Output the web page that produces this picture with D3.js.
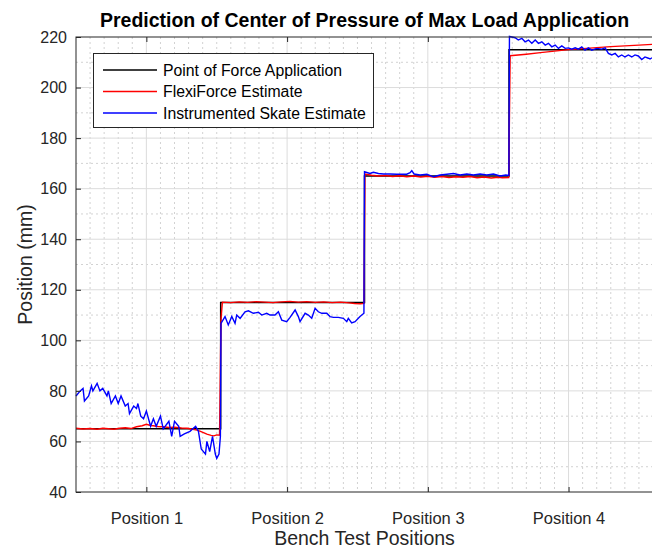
<!DOCTYPE html>
<html>
<head>
<meta charset="utf-8">
<script src="https://cdn.jsdelivr.net/npm/d3@7"></script>
<style>
  html, body { margin: 0; padding: 0; background: #fff; }
  svg { display: block; font-family: "Liberation Sans", Arial, Helvetica, sans-serif; }
</style>
</head>
<body>
<svg id="chart" width="652" height="550"></svg>
<script>
// ---- data ----
const positionLabels = ["Position 1", "Position 2", "Position 3", "Position 4"];
const positionTicks = [50, 150, 250, 350];
const yTicks = [40, 60, 80, 100, 120, 140, 160, 180, 200, 220];

// point of force application (step levels, sample index where each level starts)
const forceStart = [0, 102.8, 205, 307.7, 410];
const forceMm = [65, 115, 165, 215, 215];

// FlexiForce estimate, [sample, mm]
const flexiPos1 = [[0,65.2],[5,64.9],[10,65.1],[15,64.8],[19,65.2],[23,65.0],[27,64.8],[31,65.2],[35,65.4],[39,65.1],[43,65.8],[47,66.2],[50,66.8],[53,66.3],[55,66.2],[58,65.9],[62,65.8],[66,65.5],[70,65.6],[75,65.3],[79,65.2],[83,64.8],[86,64.5],[88,64.1],[91,63.4],[93,62.9],[96,62.4],[98,62.2],[100,62.6],[102,62.5]];
const flexiPos2 = [[103,108],[104,115.1],[110,114.9],[116,115.2],[122,115.0],[128,115.3],[134,115.1],[140,114.9],[146,115.2],[152,115.4],[158,115.1],[164,115.3],[170,115.0],[176,115.2],[182,114.9],[188,115.1],[194,114.8],[198,114.6],[202,114.5],[204.6,114.6]];
const flexiPos3 = [[205.3,165.8],[210,165.3],[215,165.0],[220,165.2],[225,164.8],[230,165.1],[235,164.7],[240,165.0],[245,164.6],[250,164.9],[255,164.5],[260,164.8],[265,164.4],[270,164.7],[275,164.5],[280,164.8],[285,164.3],[290,164.6],[295,164.2],[300,164.5],[303,164.3],[307.5,164.4]];
const flexiPos4 = [[308.5,212.6],[320,213.2],[330,213.8],[340,214.4],[350,215.0],[360,215.4],[370,215.8],[380,216.2],[390,216.5],[400,216.8],[410,217.1]];

// instrumented skate estimate, [sample, mm]
const skatePos1 = [[0,78],[3,80],[5,81],[6,76],[9,78],[11,82],[12,80],[15,83],[17,80],[19,81],[22,78],[23,80],[25,75],[28,78],[30,75],[32,78],[35,74],[37,75],[38,71],[41,74],[43,73],[44,75],[46,70],[48,69],[50,72],[53,66],[55,69],[57,66],[60,70],[62,65],[66,68],[68,62],[70,68],[73,66],[74,62],[77,63],[81,64],[85,66],[87,64],[89,57],[92,55],[93,60],[95,56],[97,62],[99,55],[100,53.3],[101.6,55],[102.6,62]];
const skatePos2 = [[103,106.7],[105.9,109.4],[108.2,106.1],[110.7,109.4],[113,106.7],[114.2,110],[116.6,108.7],[120.1,111.3],[122.5,111.7],[126,110.7],[129.6,111.1],[132,110],[135.5,110.7],[137.9,110],[141.4,110],[143.8,111.3],[146.2,108],[149.7,107.4],[152.1,109.1],[155.7,112],[158,109.4],[159.2,107.4],[162.8,110.7],[165.1,110],[167.5,108.7],[169.9,112.7],[172.2,111.3],[174.6,110.7],[178.2,110.7],[180.5,109.4],[182.9,109.1],[186.4,109.1],[190,108.7],[192.4,107.4],[193.5,108.7],[195.9,106.9],[198.3,107.4],[201.8,109.4],[204.6,110.7]];
const skatePos3 = [[205,166.7],[208.9,166],[211.3,166.5],[214.9,166],[218.4,165.8],[223.2,165.8],[227.9,165.7],[235,165.7],[237.4,166.3],[238.6,167.1],[240.2,165.8],[244.5,165.4],[249.3,165.7],[254,164.7],[258.7,165.4],[263.5,165.7],[268.2,166],[272.9,165.4],[277.7,165.8],[282.4,165.4],[287.1,165.8],[291.9,165.4],[296.6,165.8],[301.4,165],[305.4,165.4],[307.6,165.2]];
const skatePos4 = [[308,220.2],[312,219.7],[314.3,218.8],[316.8,219.5],[319.1,218.1],[321.5,218.8],[323.9,217.5],[326.3,218.8],[328.6,217.5],[331,218.1],[333.4,216.8],[335.7,217.5],[338.1,216.1],[340.5,216.8],[342.8,215.5],[345.2,216.5],[347.6,215.5],[349.9,215.7],[352.3,215.2],[354.7,215.7],[357,215.2],[359.4,216.1],[361.7,214.8],[364.1,215.7],[366.5,214.8],[370,215.5],[373.6,215.2],[376,215.7],[378.3,213.5],[380.7,212.9],[383.1,213.5],[385.4,212.1],[387.8,212.9],[390.1,212.1],[392.5,212.9],[394.9,212.1],[397.2,212.9],[399.6,212.5],[402,211.1],[404.3,212.1],[406.7,211.6],[407.9,211.3],[409.3,211.8]];

// ---- layout ----
const svg = d3.select("#chart");
const plotL = 76, plotR = 653, plotT = 37, plotB = 492;
const x = d3.scaleLinear().domain([0, 410]).range([plotL, plotR]);
const y = d3.scaleLinear().domain([40, 220]).range([plotB, plotT]);
const axisColor = "#262626";

// grid: minor dotted every 10 units, major solid at ticks
const minorX = d3.range(10, 410, 10).filter(v => !positionTicks.includes(v));
const minorY = d3.range(50, 220, 20);
const grid = svg.append("g");
grid.selectAll(".mx").data(minorX).join("line")
  .attr("x1", d => x(d)).attr("x2", d => x(d)).attr("y1", plotT).attr("y2", plotB)
  .attr("stroke", "#d2d2d2").attr("stroke-width", 1).attr("stroke-dasharray", "2,3");
grid.selectAll(".my").data(minorY).join("line")
  .attr("x1", plotL).attr("x2", plotR).attr("y1", d => y(d)).attr("y2", d => y(d))
  .attr("stroke", "#d2d2d2").attr("stroke-width", 1).attr("stroke-dasharray", "2,3");
grid.selectAll(".Mx").data(positionTicks).join("line")
  .attr("x1", d => x(d)).attr("x2", d => x(d)).attr("y1", plotT).attr("y2", plotB)
  .attr("stroke", "#dcdcdc").attr("stroke-width", 1);
grid.selectAll(".My").data(yTicks.slice(1, -1)).join("line")
  .attr("x1", plotL).attr("x2", plotR).attr("y1", d => y(d)).attr("y2", d => y(d))
  .attr("stroke", "#dcdcdc").attr("stroke-width", 1);

// ---- series ----
const line = d3.line().x(d => x(d[0])).y(d => y(d[1]));
const forceSteps = forceStart.map((s, i) => [s, forceMm[i]]);
svg.append("path").datum(forceSteps)
  .attr("d", d3.line().x(d => x(d[0])).y(d => y(d[1])).curve(d3.curveStepAfter))
  .attr("fill", "none").attr("stroke", "#000").attr("stroke-width", 1.5);

const flexi = [].concat(flexiPos1, flexiPos2, flexiPos3, flexiPos4);
svg.append("path").datum(flexi).attr("d", line)
  .attr("fill", "none").attr("stroke", "#ff0000").attr("stroke-width", 1.4);

const skate = [].concat(skatePos1, skatePos2, skatePos3, skatePos4);
svg.append("path").datum(skate).attr("d", line)
  .attr("fill", "none").attr("stroke", "#0000ff").attr("stroke-width", 1.4);

// ---- axes ----
const gx = svg.append("g").attr("transform", `translate(0,${plotB})`)
  .call(d3.axisBottom(x).tickValues(positionTicks)
    .tickFormat((d, i) => positionLabels[i]).tickSizeInner(-5).tickSizeOuter(0).tickPadding(20));
const gxt = svg.append("g").attr("transform", `translate(0,${plotT})`)
  .call(d3.axisTop(x).tickValues(positionTicks).tickFormat("").tickSizeInner(-5).tickSizeOuter(0));
const gy = svg.append("g").attr("transform", `translate(${plotL},0)`)
  .call(d3.axisLeft(y).tickValues(yTicks).tickSizeInner(-5).tickSizeOuter(0).tickPadding(9));
[gx, gxt, gy].forEach(g => {
  g.select(".domain").remove();
  g.selectAll("line").attr("stroke", axisColor);
  g.selectAll("text").attr("fill", axisColor)
    .style("font-family", "'Liberation Sans', Arial, sans-serif");
});
gx.selectAll("text").style("font-size", "16.5px");
gy.selectAll("text").style("font-size", "16px");

// box
svg.append("rect").attr("x", plotL).attr("y", plotT)
  .attr("width", plotR - plotL).attr("height", plotB - plotT)
  .attr("fill", "none").attr("stroke", axisColor).attr("stroke-width", 1);

// ---- text ----
svg.append("text").attr("x", (plotL + plotR) / 2).attr("y", 27)
  .attr("text-anchor", "middle").attr("font-weight", "bold").attr("font-size", 19.5)
  .attr("fill", "#000").text("Prediction of Center of Pressure of Max Load Application");
svg.append("text").attr("x", (plotL + plotR) / 2).attr("y", 545)
  .attr("text-anchor", "middle").attr("font-size", 19.5).attr("fill", axisColor)
  .text("Bench Test Positions");
svg.append("text").attr("transform", `translate(32,${(plotT + plotB) / 2}) rotate(-90)`)
  .attr("text-anchor", "middle").attr("font-size", 19.5).attr("fill", axisColor)
  .text("Position (mm)");

// ---- legend ----
const legendItems = [
  { name: "Point of Force Application", color: "#000" },
  { name: "FlexiForce Estimate", color: "#ff0000" },
  { name: "Instrumented Skate Estimate", color: "#0000ff" }
];
const lg = svg.append("g");
lg.append("rect").attr("x", 93.5).attr("y", 53.5).attr("width", 280).attr("height", 74)
  .attr("fill", "#fff").attr("stroke", axisColor).attr("stroke-width", 1);
legendItems.forEach((it, i) => {
  const ly = 70 + i * 21.5;
  lg.append("line").attr("x1", 103).attr("x2", 157).attr("y1", ly).attr("y2", ly)
    .attr("stroke", it.color).attr("stroke-width", 1.4);
  lg.append("text").attr("x", 163).attr("y", ly + 5.5).attr("font-size", 15.8)
    .attr("fill", "#000").text(it.name);
});
</script>
</body>
</html>
